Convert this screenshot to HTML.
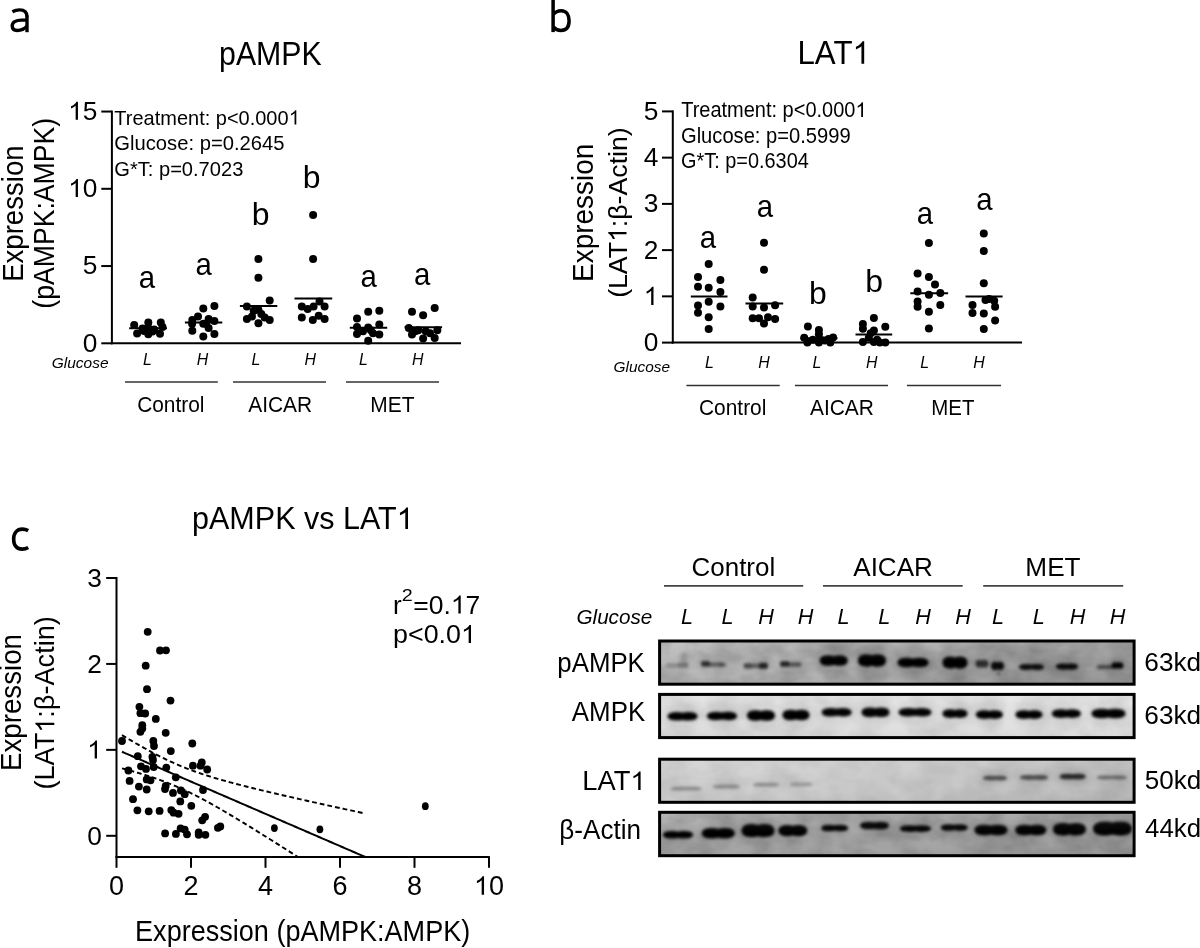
<!DOCTYPE html>
<html><head><meta charset="utf-8"><title>Figure</title>
<style>
html,body{margin:0;padding:0;background:#fff;}
body{width:1200px;height:948px;overflow:hidden;}
svg{display:block;filter:grayscale(1);}
text{-webkit-font-smoothing:antialiased;}
text{font-family:"Liberation Sans",sans-serif;fill:#000;}
</style></head><body>
<svg width="1200" height="948" viewBox="0 0 1200 948">
<rect width="1200" height="948" fill="#fff"/>
<g fill="none" stroke="#000" stroke-width="3.4"><path d="M27,15.5 L27,32.2"/><path d="M12.4,11.8 C14.6,10.5 17,9.9 19.6,9.9 C24.6,9.9 27,12.3 27,16.8"/><path d="M27,20.1 L21.6,20.1 C15.6,20.1 12.2,22.2 12.2,25.8 C12.2,29 14.4,30.5 17.4,30.5 C21.4,30.5 24.8,28.6 27,26.2"/></g>
<text transform="translate(219.06,64.50) scale(0.9223,1)" font-size="32.85">pAMPK</text>
<g transform="translate(114.36,124.50) scale(0.9629,1)"><text font-size="20.78">Treatment: p&lt;0.000 </text><path transform="translate(181.21,0) scale(0.01015,-0.01015)" d="M763,0 L583,0 L583,1098 Q518,1038 412,979 Q307,920 223,890 L223,1057 Q374,1125 487,1221 Q601,1318 648,1409 L763,1409 Z"/></g>
<text transform="translate(114.29,150.30) scale(0.9731,1)" font-size="20.78">Glucose: p=0.2645</text>
<text transform="translate(114.29,176.00) scale(0.9673,1)" font-size="20.78">G*T: p=0.7023</text>
<line x1="111.90" y1="110.60" x2="111.90" y2="344.30" stroke="#000" stroke-width="2"/>
<line x1="110.90" y1="343.30" x2="461.00" y2="343.30" stroke="#000" stroke-width="2"/>
<line x1="101.30" y1="343.30" x2="111.90" y2="343.30" stroke="#000" stroke-width="2"/>
<text transform="translate(82.80,351.60)" font-size="26.30">0</text>
<line x1="101.30" y1="266.05" x2="111.90" y2="266.05" stroke="#000" stroke-width="2"/>
<text transform="translate(82.80,274.35)" font-size="26.30">5</text>
<line x1="101.30" y1="188.80" x2="111.90" y2="188.80" stroke="#000" stroke-width="2"/>
<g transform="translate(68.17,197.10)"><text font-size="26.30"> 0</text><path transform="translate(0.00,0) scale(0.01284,-0.01284)" d="M763,0 L583,0 L583,1098 Q518,1038 412,979 Q307,920 223,890 L223,1057 Q374,1125 487,1221 Q601,1318 648,1409 L763,1409 Z"/></g>
<line x1="101.30" y1="111.55" x2="111.90" y2="111.55" stroke="#000" stroke-width="2"/>
<g transform="translate(68.17,119.85)"><text font-size="26.30"> 5</text><path transform="translate(0.00,0) scale(0.01284,-0.01284)" d="M763,0 L583,0 L583,1098 Q518,1038 412,979 Q307,920 223,890 L223,1057 Q374,1125 487,1221 Q601,1318 648,1409 L763,1409 Z"/></g>
<text transform="translate(22.70,281.86) rotate(-90) scale(0.9489,1)" font-size="29.07">Expression</text>
<text transform="translate(54.30,308.65) rotate(-90) scale(0.9157,1)" font-size="29.07">(pAMPK:AMPK)</text>
<text transform="translate(51.74,368.20) scale(1.0329,1)" font-size="15.00" font-style="italic">Glucose</text>
<text transform="translate(143.09,364.70)" font-size="15.90" font-style="italic">L</text>
<text transform="translate(196.71,364.70)" font-size="15.90" font-style="italic">H</text>
<text transform="translate(251.39,364.70)" font-size="15.90" font-style="italic">L</text>
<text transform="translate(304.51,364.70)" font-size="15.90" font-style="italic">H</text>
<text transform="translate(358.89,364.70)" font-size="15.90" font-style="italic">L</text>
<text transform="translate(412.01,364.70)" font-size="15.90" font-style="italic">H</text>
<line x1="125.00" y1="382.00" x2="217.80" y2="382.00" stroke="#333" stroke-width="1.5"/>
<text transform="translate(137.18,411.60) scale(0.9709,1)" font-size="21.51">Control</text>
<line x1="233.00" y1="382.00" x2="326.00" y2="382.00" stroke="#333" stroke-width="1.5"/>
<text transform="translate(248.21,411.60) scale(0.9739,1)" font-size="21.51">AICAR</text>
<line x1="346.00" y1="382.00" x2="439.00" y2="382.00" stroke="#333" stroke-width="1.5"/>
<text transform="translate(370.28,411.60) scale(0.9733,1)" font-size="21.51">MET</text>
<text transform="translate(138.66,288.28) scale(0.9300,1)" font-size="31.60">a</text>
<text transform="translate(195.61,275.48) scale(0.9300,1)" font-size="31.60">a</text>
<text transform="translate(251.76,224.69) scale(1.0300,1)" font-size="31.00">b</text>
<text transform="translate(302.66,187.69) scale(1.0300,1)" font-size="31.00">b</text>
<text transform="translate(360.51,286.58) scale(0.9300,1)" font-size="31.60">a</text>
<text transform="translate(414.06,284.98) scale(0.9300,1)" font-size="31.60">a</text>
<line x1="129.20" y1="328.30" x2="167.00" y2="328.30" stroke="#000" stroke-width="2"/>
<line x1="184.90" y1="322.60" x2="222.30" y2="322.60" stroke="#000" stroke-width="2"/>
<line x1="239.90" y1="306.10" x2="277.30" y2="306.10" stroke="#000" stroke-width="2"/>
<line x1="294.50" y1="298.50" x2="332.20" y2="298.50" stroke="#000" stroke-width="2"/>
<line x1="349.80" y1="327.70" x2="387.20" y2="327.70" stroke="#000" stroke-width="2"/>
<line x1="404.60" y1="327.30" x2="442.10" y2="327.30" stroke="#000" stroke-width="2"/>
<circle cx="134.2" cy="325.0" r="4.0"/>
<circle cx="137.1" cy="333.5" r="4.0"/>
<circle cx="148.3" cy="322.6" r="4.0"/>
<circle cx="148.3" cy="334.2" r="4.0"/>
<circle cx="160.8" cy="322.4" r="4.0"/>
<circle cx="160.0" cy="333.8" r="4.0"/>
<circle cx="142.5" cy="328.5" r="4.0"/>
<circle cx="148.3" cy="328.0" r="4.0"/>
<circle cx="154.2" cy="329.6" r="4.0"/>
<circle cx="162.5" cy="327.0" r="4.0"/>
<circle cx="144.0" cy="331.0" r="4.0"/>
<circle cx="152.5" cy="331.5" r="4.0"/>
<circle cx="203.3" cy="308.5" r="4.0"/>
<circle cx="214.4" cy="305.9" r="4.0"/>
<circle cx="198.0" cy="316.5" r="4.0"/>
<circle cx="192.3" cy="320.1" r="4.0"/>
<circle cx="208.6" cy="319.1" r="4.0"/>
<circle cx="214.4" cy="320.9" r="4.0"/>
<circle cx="203.3" cy="323.8" r="4.0"/>
<circle cx="208.6" cy="328.0" r="4.0"/>
<circle cx="192.3" cy="330.7" r="4.0"/>
<circle cx="203.3" cy="336.5" r="4.0"/>
<circle cx="214.4" cy="333.9" r="4.0"/>
<circle cx="206.0" cy="323.8" r="4.0"/>
<circle cx="192.1" cy="323.8" r="4.0"/>
<circle cx="258.4" cy="258.9" r="4.0"/>
<circle cx="258.4" cy="277.8" r="4.0"/>
<circle cx="269.7" cy="300.5" r="4.0"/>
<circle cx="246.9" cy="306.5" r="4.0"/>
<circle cx="253.7" cy="310.7" r="4.0"/>
<circle cx="258.4" cy="309.8" r="4.0"/>
<circle cx="261.3" cy="314.0" r="4.0"/>
<circle cx="246.9" cy="319.1" r="4.0"/>
<circle cx="252.0" cy="316.6" r="4.0"/>
<circle cx="269.7" cy="320.0" r="4.0"/>
<circle cx="258.4" cy="323.3" r="4.0"/>
<circle cx="264.7" cy="317.4" r="4.0"/>
<circle cx="313.1" cy="215.0" r="4.0"/>
<circle cx="313.1" cy="258.9" r="4.0"/>
<circle cx="301.8" cy="306.5" r="4.0"/>
<circle cx="307.7" cy="309.0" r="4.0"/>
<circle cx="313.6" cy="306.5" r="4.0"/>
<circle cx="319.5" cy="301.4" r="4.0"/>
<circle cx="324.6" cy="306.5" r="4.0"/>
<circle cx="301.8" cy="317.4" r="4.0"/>
<circle cx="312.8" cy="320.0" r="4.0"/>
<circle cx="318.7" cy="315.7" r="4.0"/>
<circle cx="324.6" cy="319.1" r="4.0"/>
<circle cx="368.2" cy="311.7" r="4.0"/>
<circle cx="379.3" cy="310.7" r="4.0"/>
<circle cx="357.0" cy="318.4" r="4.0"/>
<circle cx="379.3" cy="324.4" r="4.0"/>
<circle cx="357.0" cy="327.0" r="4.0"/>
<circle cx="363.0" cy="331.2" r="4.0"/>
<circle cx="368.2" cy="327.5" r="4.0"/>
<circle cx="373.0" cy="333.3" r="4.0"/>
<circle cx="357.0" cy="333.9" r="4.0"/>
<circle cx="379.3" cy="334.4" r="4.0"/>
<circle cx="368.2" cy="340.7" r="4.0"/>
<circle cx="370.9" cy="330.2" r="4.0"/>
<circle cx="412.0" cy="311.7" r="4.0"/>
<circle cx="423.1" cy="315.2" r="4.0"/>
<circle cx="434.7" cy="308.0" r="4.0"/>
<circle cx="408.8" cy="328.0" r="4.0"/>
<circle cx="412.0" cy="334.4" r="4.0"/>
<circle cx="418.3" cy="330.2" r="4.0"/>
<circle cx="425.7" cy="331.2" r="4.0"/>
<circle cx="430.0" cy="333.3" r="4.0"/>
<circle cx="437.3" cy="330.2" r="4.0"/>
<circle cx="423.1" cy="338.6" r="4.0"/>
<circle cx="434.7" cy="338.1" r="4.0"/>
<circle cx="415.2" cy="331.2" r="4.0"/>
<g fill="none" stroke="#000" stroke-width="3.5"><path d="M553.1,0 L553.1,32.1"/><path d="M553.3,14.5 C555.3,11.8 558.2,10.7 561.2,10.7 C566.4,10.7 569.1,14.8 569.1,20.8 C569.1,27 566.1,30.4 561,30.4 C557.8,30.4 555.2,29.2 553.3,27"/></g>
<g transform="translate(797.43,63.70) scale(0.9574,1)"><text font-size="32.70">LAT </text><path transform="translate(57.55,0) scale(0.01597,-0.01597)" d="M763,0 L583,0 L583,1098 Q518,1038 412,979 Q307,920 223,890 L223,1057 Q374,1125 487,1221 Q601,1318 648,1409 L763,1409 Z"/></g>
<g transform="translate(681.16,117.10) scale(0.9236,1)"><text font-size="21.66">Treatment: p&lt;0.000 </text><path transform="translate(188.81,0) scale(0.01057,-0.01057)" d="M763,0 L583,0 L583,1098 Q518,1038 412,979 Q307,920 223,890 L223,1057 Q374,1125 487,1221 Q601,1318 648,1409 L763,1409 Z"/></g>
<text transform="translate(680.99,142.60) scale(0.9300,1)" font-size="21.66">Glucose: p=0.5999</text>
<text transform="translate(681.00,168.10) scale(0.9196,1)" font-size="21.66">G*T: p=0.6304</text>
<line x1="672.80" y1="110.40" x2="672.80" y2="343.60" stroke="#000" stroke-width="2"/>
<line x1="671.80" y1="342.60" x2="1022.00" y2="342.60" stroke="#000" stroke-width="2"/>
<line x1="662.00" y1="342.60" x2="672.80" y2="342.60" stroke="#000" stroke-width="2"/>
<text transform="translate(643.70,351.20)" font-size="26.30">0</text>
<line x1="662.00" y1="296.36" x2="672.80" y2="296.36" stroke="#000" stroke-width="2"/>
<g transform="translate(643.70,304.96)"><path transform="translate(0.00,0) scale(0.01284,-0.01284)" d="M763,0 L583,0 L583,1098 Q518,1038 412,979 Q307,920 223,890 L223,1057 Q374,1125 487,1221 Q601,1318 648,1409 L763,1409 Z"/></g>
<line x1="662.00" y1="250.12" x2="672.80" y2="250.12" stroke="#000" stroke-width="2"/>
<text transform="translate(643.70,258.72)" font-size="26.30">2</text>
<line x1="662.00" y1="203.88" x2="672.80" y2="203.88" stroke="#000" stroke-width="2"/>
<text transform="translate(643.70,212.48)" font-size="26.30">3</text>
<line x1="662.00" y1="157.64" x2="672.80" y2="157.64" stroke="#000" stroke-width="2"/>
<text transform="translate(643.70,166.24)" font-size="26.30">4</text>
<line x1="662.00" y1="111.40" x2="672.80" y2="111.40" stroke="#000" stroke-width="2"/>
<text transform="translate(643.70,120.00)" font-size="26.30">5</text>
<text transform="translate(592.80,281.89) rotate(-90) scale(0.9659,1)" font-size="28.92">Expression</text>
<g transform="translate(626.50,297.86) rotate(-90) scale(1.0097,1)"><text font-size="26.45">(LAT :β-Actin)</text><path transform="translate(55.36,0) scale(0.01292,-0.01292)" d="M763,0 L583,0 L583,1098 Q518,1038 412,979 Q307,920 223,890 L223,1057 Q374,1125 487,1221 Q601,1318 648,1409 L763,1409 Z"/></g>
<text transform="translate(613.54,371.70) scale(1.0072,1)" font-size="15.30" font-style="italic">Glucose</text>
<text transform="translate(704.99,368.00)" font-size="15.90" font-style="italic">L</text>
<text transform="translate(758.31,368.00)" font-size="15.90" font-style="italic">H</text>
<text transform="translate(812.39,368.00)" font-size="15.90" font-style="italic">L</text>
<text transform="translate(866.01,368.00)" font-size="15.90" font-style="italic">H</text>
<text transform="translate(920.19,368.00)" font-size="15.90" font-style="italic">L</text>
<text transform="translate(973.31,368.00)" font-size="15.90" font-style="italic">H</text>
<line x1="686.40" y1="385.50" x2="779.70" y2="385.50" stroke="#333" stroke-width="1.5"/>
<text transform="translate(699.03,415.00) scale(0.9716,1)" font-size="21.51">Control</text>
<line x1="795.00" y1="385.50" x2="888.00" y2="385.50" stroke="#333" stroke-width="1.5"/>
<text transform="translate(809.96,415.00) scale(0.9739,1)" font-size="21.51">AICAR</text>
<line x1="907.00" y1="385.50" x2="1001.00" y2="385.50" stroke="#333" stroke-width="1.5"/>
<text transform="translate(931.32,415.00) scale(0.9501,1)" font-size="21.51">MET</text>
<text transform="translate(699.76,247.88) scale(0.9300,1)" font-size="31.60">a</text>
<text transform="translate(756.86,217.38) scale(0.9300,1)" font-size="31.60">a</text>
<text transform="translate(808.96,304.49) scale(1.0300,1)" font-size="31.00">b</text>
<text transform="translate(865.21,291.69) scale(1.0300,1)" font-size="31.00">b</text>
<text transform="translate(916.66,224.38) scale(0.9300,1)" font-size="31.60">a</text>
<text transform="translate(976.31,209.88) scale(0.9300,1)" font-size="31.60">a</text>
<line x1="690.80" y1="296.60" x2="727.50" y2="296.60" stroke="#000" stroke-width="2"/>
<line x1="745.50" y1="303.50" x2="783.20" y2="303.50" stroke="#000" stroke-width="2"/>
<line x1="800.50" y1="338.30" x2="837.50" y2="338.30" stroke="#000" stroke-width="2"/>
<line x1="855.50" y1="334.40" x2="892.20" y2="334.40" stroke="#000" stroke-width="2"/>
<line x1="910.30" y1="293.30" x2="948.10" y2="293.30" stroke="#000" stroke-width="2"/>
<line x1="965.50" y1="296.40" x2="1002.60" y2="296.40" stroke="#000" stroke-width="2"/>
<circle cx="708.7" cy="264.0" r="4.0"/>
<circle cx="698.0" cy="276.9" r="4.0"/>
<circle cx="720.4" cy="280.1" r="4.0"/>
<circle cx="698.0" cy="286.8" r="4.0"/>
<circle cx="708.7" cy="287.7" r="4.0"/>
<circle cx="720.4" cy="292.1" r="4.0"/>
<circle cx="708.7" cy="301.7" r="4.0"/>
<circle cx="698.0" cy="305.6" r="4.0"/>
<circle cx="720.4" cy="306.5" r="4.0"/>
<circle cx="698.0" cy="312.8" r="4.0"/>
<circle cx="708.7" cy="317.3" r="4.0"/>
<circle cx="708.7" cy="329.0" r="4.0"/>
<circle cx="764.0" cy="242.8" r="4.0"/>
<circle cx="764.0" cy="269.7" r="4.0"/>
<circle cx="752.7" cy="297.5" r="4.0"/>
<circle cx="752.7" cy="306.5" r="4.0"/>
<circle cx="764.0" cy="307.4" r="4.0"/>
<circle cx="775.1" cy="305.2" r="4.0"/>
<circle cx="752.7" cy="318.2" r="4.0"/>
<circle cx="759.0" cy="318.2" r="4.0"/>
<circle cx="768.0" cy="317.3" r="4.0"/>
<circle cx="775.1" cy="319.0" r="4.0"/>
<circle cx="764.0" cy="323.5" r="4.0"/>
<circle cx="807.9" cy="326.4" r="4.0"/>
<circle cx="818.9" cy="330.0" r="4.0"/>
<circle cx="818.9" cy="334.2" r="4.0"/>
<circle cx="804.2" cy="337.8" r="4.0"/>
<circle cx="807.4" cy="342.4" r="4.0"/>
<circle cx="812.9" cy="339.7" r="4.0"/>
<circle cx="818.9" cy="342.4" r="4.0"/>
<circle cx="824.8" cy="340.6" r="4.0"/>
<circle cx="830.3" cy="342.4" r="4.0"/>
<circle cx="833.1" cy="337.4" r="4.0"/>
<circle cx="821.2" cy="340.0" r="4.0"/>
<circle cx="828.5" cy="339.0" r="4.0"/>
<circle cx="873.9" cy="318.1" r="4.0"/>
<circle cx="862.9" cy="324.1" r="4.0"/>
<circle cx="862.9" cy="328.7" r="4.0"/>
<circle cx="885.3" cy="326.8" r="4.0"/>
<circle cx="873.9" cy="330.5" r="4.0"/>
<circle cx="870.7" cy="333.2" r="4.0"/>
<circle cx="868.8" cy="337.8" r="4.0"/>
<circle cx="862.9" cy="342.0" r="4.0"/>
<circle cx="873.9" cy="342.0" r="4.0"/>
<circle cx="877.1" cy="339.7" r="4.0"/>
<circle cx="879.8" cy="342.4" r="4.0"/>
<circle cx="885.3" cy="342.4" r="4.0"/>
<circle cx="928.9" cy="243.0" r="4.0"/>
<circle cx="917.6" cy="273.4" r="4.0"/>
<circle cx="928.9" cy="276.9" r="4.0"/>
<circle cx="935.0" cy="284.6" r="4.0"/>
<circle cx="917.6" cy="291.5" r="4.0"/>
<circle cx="928.9" cy="294.7" r="4.0"/>
<circle cx="940.3" cy="292.9" r="4.0"/>
<circle cx="917.6" cy="301.6" r="4.0"/>
<circle cx="917.6" cy="306.8" r="4.0"/>
<circle cx="940.3" cy="305.1" r="4.0"/>
<circle cx="928.9" cy="311.7" r="4.0"/>
<circle cx="928.9" cy="328.6" r="4.0"/>
<circle cx="983.8" cy="233.4" r="4.0"/>
<circle cx="983.8" cy="251.1" r="4.0"/>
<circle cx="983.8" cy="283.3" r="4.0"/>
<circle cx="989.0" cy="299.0" r="4.0"/>
<circle cx="994.2" cy="300.8" r="4.0"/>
<circle cx="972.5" cy="305.1" r="4.0"/>
<circle cx="972.5" cy="312.9" r="4.0"/>
<circle cx="983.8" cy="313.5" r="4.0"/>
<circle cx="995.1" cy="306.8" r="4.0"/>
<circle cx="995.1" cy="320.4" r="4.0"/>
<circle cx="983.8" cy="329.1" r="4.0"/>
<circle cx="985.5" cy="299.9" r="4.0"/>
<g fill="none" stroke="#000" stroke-width="3.6"><path d="M28.2,530.6 C26.4,529.6 24.4,529.1 22.4,529.1 C16.9,529.1 13.65,533.2 13.65,539.3 C13.65,545.5 16.9,549.1 22.2,549.1 C24.4,549.1 26.5,548.5 28.2,547.5"/></g>
<g transform="translate(192.05,529.00) scale(0.9718,1)"><text font-size="31.40">pAMPK vs LAT </text><path transform="translate(210.52,0) scale(0.01533,-0.01533)" d="M763,0 L583,0 L583,1098 Q518,1038 412,979 Q307,920 223,890 L223,1057 Q374,1125 487,1221 Q601,1318 648,1409 L763,1409 Z"/></g>
<line x1="116.50" y1="577.00" x2="116.50" y2="858.00" stroke="#000" stroke-width="2"/>
<line x1="115.50" y1="857.00" x2="489.80" y2="857.00" stroke="#000" stroke-width="2"/>
<line x1="106.20" y1="835.80" x2="116.50" y2="835.80" stroke="#000" stroke-width="2"/>
<text transform="translate(87.20,844.50)" font-size="26.30">0</text>
<line x1="106.20" y1="749.87" x2="116.50" y2="749.87" stroke="#000" stroke-width="2"/>
<g transform="translate(87.20,758.57)"><path transform="translate(0.00,0) scale(0.01284,-0.01284)" d="M763,0 L583,0 L583,1098 Q518,1038 412,979 Q307,920 223,890 L223,1057 Q374,1125 487,1221 Q601,1318 648,1409 L763,1409 Z"/></g>
<line x1="106.20" y1="663.94" x2="116.50" y2="663.94" stroke="#000" stroke-width="2"/>
<text transform="translate(87.20,672.64)" font-size="26.30">2</text>
<line x1="106.20" y1="578.01" x2="116.50" y2="578.01" stroke="#000" stroke-width="2"/>
<text transform="translate(87.20,586.71)" font-size="26.30">3</text>
<line x1="116.50" y1="857.00" x2="116.50" y2="867.80" stroke="#000" stroke-width="2"/>
<text transform="translate(108.99,894.80)" font-size="27.00">0</text>
<line x1="191.00" y1="857.00" x2="191.00" y2="867.80" stroke="#000" stroke-width="2"/>
<text transform="translate(183.49,894.80)" font-size="27.00">2</text>
<line x1="265.50" y1="857.00" x2="265.50" y2="867.80" stroke="#000" stroke-width="2"/>
<text transform="translate(257.99,894.80)" font-size="27.00">4</text>
<line x1="340.00" y1="857.00" x2="340.00" y2="867.80" stroke="#000" stroke-width="2"/>
<text transform="translate(332.49,894.80)" font-size="27.00">6</text>
<line x1="414.50" y1="857.00" x2="414.50" y2="867.80" stroke="#000" stroke-width="2"/>
<text transform="translate(406.99,894.80)" font-size="27.00">8</text>
<line x1="489.00" y1="857.00" x2="489.00" y2="867.80" stroke="#000" stroke-width="2"/>
<g transform="translate(473.98,894.80)"><text font-size="27.00"> 0</text><path transform="translate(0.00,0) scale(0.01318,-0.01318)" d="M763,0 L583,0 L583,1098 Q518,1038 412,979 Q307,920 223,890 L223,1057 Q374,1125 487,1221 Q601,1318 648,1409 L763,1409 Z"/></g>
<text transform="translate(135.08,941.20) scale(0.9169,1)" font-size="29.51">Expression (pAMPK:AMPK)</text>
<text transform="translate(21.00,770.97) rotate(-90) scale(0.9580,1)" font-size="28.92">Expression</text>
<g transform="translate(54.30,789.58) rotate(-90) scale(0.9880,1)"><text font-size="27.47">(LAT :β-Actin)</text><path transform="translate(57.49,0) scale(0.01341,-0.01341)" d="M763,0 L583,0 L583,1098 Q518,1038 412,979 Q307,920 223,890 L223,1057 Q374,1125 487,1221 Q601,1318 648,1409 L763,1409 Z"/></g>
<text transform="translate(393.08,613.50)" font-size="26.00">r</text>
<text transform="translate(401.81,601.00) scale(1.1343,1)" font-size="17.40">2</text>
<g transform="translate(413.20,613.50) scale(1.0205,1)"><text font-size="26.00">=0. 7</text><path transform="translate(36.87,0) scale(0.01270,-0.01270)" d="M763,0 L583,0 L583,1098 Q518,1038 412,979 Q307,920 223,890 L223,1057 Q374,1125 487,1221 Q601,1318 648,1409 L763,1409 Z"/></g>
<g transform="translate(393.08,643.00) scale(1.0324,1)"><text font-size="26.00">p&lt;0.0 </text><path transform="translate(65.79,0) scale(0.01270,-0.01270)" d="M763,0 L583,0 L583,1098 Q518,1038 412,979 Q307,920 223,890 L223,1057 Q374,1125 487,1221 Q601,1318 648,1409 L763,1409 Z"/></g>
<circle cx="147.7" cy="631.8" r="3.9"/>
<circle cx="160.0" cy="650.5" r="3.9"/>
<circle cx="166.0" cy="650.3" r="3.9"/>
<circle cx="145.7" cy="665.7" r="3.9"/>
<circle cx="147.0" cy="689.2" r="3.9"/>
<circle cx="170.5" cy="700.6" r="3.9"/>
<circle cx="139.4" cy="706.8" r="3.9"/>
<circle cx="140.4" cy="713.2" r="3.9"/>
<circle cx="145.2" cy="713.5" r="3.9"/>
<circle cx="155.8" cy="718.9" r="3.9"/>
<circle cx="142.3" cy="725.2" r="3.9"/>
<circle cx="142.3" cy="728.4" r="3.9"/>
<circle cx="140.4" cy="731.8" r="3.9"/>
<circle cx="165.7" cy="732.8" r="3.9"/>
<circle cx="122.0" cy="741.0" r="3.9"/>
<circle cx="153.3" cy="741.0" r="3.9"/>
<circle cx="154.0" cy="746.0" r="3.9"/>
<circle cx="192.3" cy="743.5" r="3.9"/>
<circle cx="170.8" cy="751.1" r="3.9"/>
<circle cx="137.8" cy="756.2" r="3.9"/>
<circle cx="152.4" cy="756.8" r="3.9"/>
<circle cx="153.0" cy="760.0" r="3.9"/>
<circle cx="141.0" cy="766.3" r="3.9"/>
<circle cx="146.0" cy="768.9" r="3.9"/>
<circle cx="153.7" cy="767.0" r="3.9"/>
<circle cx="166.3" cy="767.6" r="3.9"/>
<circle cx="192.9" cy="765.7" r="3.9"/>
<circle cx="201.8" cy="762.5" r="3.9"/>
<circle cx="200.5" cy="765.7" r="3.9"/>
<circle cx="207.2" cy="769.5" r="3.9"/>
<circle cx="128.4" cy="770.5" r="3.9"/>
<circle cx="175.8" cy="777.3" r="3.9"/>
<circle cx="129.6" cy="780.9" r="3.9"/>
<circle cx="146.7" cy="779.4" r="3.9"/>
<circle cx="150.5" cy="780.3" r="3.9"/>
<circle cx="138.9" cy="786.6" r="3.9"/>
<circle cx="146.7" cy="789.5" r="3.9"/>
<circle cx="165.7" cy="786.0" r="3.9"/>
<circle cx="165.0" cy="789.1" r="3.9"/>
<circle cx="173.0" cy="792.9" r="3.9"/>
<circle cx="180.9" cy="790.4" r="3.9"/>
<circle cx="184.7" cy="794.2" r="3.9"/>
<circle cx="203.0" cy="790.0" r="3.9"/>
<circle cx="133.0" cy="799.2" r="3.9"/>
<circle cx="180.3" cy="801.4" r="3.9"/>
<circle cx="191.3" cy="805.8" r="3.9"/>
<circle cx="137.4" cy="810.3" r="3.9"/>
<circle cx="148.7" cy="811.3" r="3.9"/>
<circle cx="159.6" cy="810.9" r="3.9"/>
<circle cx="171.3" cy="810.1" r="3.9"/>
<circle cx="173.6" cy="812.7" r="3.9"/>
<circle cx="178.6" cy="813.8" r="3.9"/>
<circle cx="202.2" cy="820.3" r="3.9"/>
<circle cx="205.1" cy="816.8" r="3.9"/>
<circle cx="217.9" cy="827.8" r="3.9"/>
<circle cx="220.3" cy="826.4" r="3.9"/>
<circle cx="165.1" cy="833.4" r="3.9"/>
<circle cx="175.9" cy="833.9" r="3.9"/>
<circle cx="180.6" cy="828.4" r="3.9"/>
<circle cx="184.7" cy="829.6" r="3.9"/>
<circle cx="187.0" cy="834.3" r="3.9"/>
<circle cx="198.7" cy="832.3" r="3.9"/>
<circle cx="198.7" cy="834.8" r="3.9"/>
<circle cx="205.4" cy="834.8" r="3.9"/>
<ellipse cx="274.4" cy="828.1" rx="3.4" ry="3.9"/>
<ellipse cx="319.9" cy="829.3" rx="3.4" ry="3.9"/>
<ellipse cx="425.3" cy="806.2" rx="3.4" ry="3.9"/>
<path d="M121.98,751.76 L123.19,752.28 L124.41,752.81 L125.63,753.34 L126.84,753.86 L128.06,754.39 L129.28,754.91 L130.49,755.44 L131.71,755.97 L132.93,756.49 L134.14,757.02 L135.36,757.55 L136.57,758.07 L137.79,758.60 L139.01,759.12 L140.22,759.65 L141.44,760.18 L142.66,760.70 L143.87,761.23 L145.09,761.76 L146.31,762.28 L147.52,762.81 L148.74,763.33 L149.96,763.86 L151.17,764.39 L152.39,764.91 L153.61,765.44 L154.82,765.97 L156.04,766.49 L157.26,767.02 L158.47,767.54 L159.69,768.07 L160.91,768.60 L162.12,769.12 L163.34,769.65 L164.56,770.17 L165.77,770.70 L166.99,771.23 L168.21,771.75 L169.42,772.28 L170.64,772.81 L171.86,773.33 L173.07,773.86 L174.29,774.38 L175.51,774.91 L176.72,775.44 L177.94,775.96 L179.16,776.49 L180.37,777.02 L181.59,777.54 L182.81,778.07 L184.02,778.59 L185.24,779.12 L186.45,779.65 L187.67,780.17 L188.89,780.70 L190.10,781.23 L191.32,781.75 L192.54,782.28 L193.75,782.80 L194.97,783.33 L196.19,783.86 L197.40,784.38 L198.62,784.91 L199.84,785.43 L201.05,785.96 L202.27,786.49 L203.49,787.01 L204.70,787.54 L205.92,788.07 L207.14,788.59 L208.35,789.12 L209.57,789.64 L210.79,790.17 L212.00,790.70 L213.22,791.22 L214.44,791.75 L215.65,792.28 L216.87,792.80 L218.09,793.33 L219.30,793.85 L220.52,794.38 L221.74,794.91 L222.95,795.43 L224.17,795.96 L225.39,796.49 L226.60,797.01 L227.82,797.54 L229.04,798.06 L230.25,798.59 L231.47,799.12 L232.68,799.64 L233.90,800.17 L235.12,800.70 L236.33,801.22 L237.55,801.75 L238.77,802.27 L239.98,802.80 L241.20,803.33 L242.42,803.85 L243.63,804.38 L244.85,804.90 L246.07,805.43 L247.28,805.96 L248.50,806.48 L249.72,807.01 L250.93,807.54 L252.15,808.06 L253.37,808.59 L254.58,809.11 L255.80,809.64 L257.02,810.17 L258.23,810.69 L259.45,811.22 L260.67,811.75 L261.88,812.27 L263.10,812.80 L264.32,813.32 L265.53,813.85 L266.75,814.38 L267.97,814.90 L269.18,815.43 L270.40,815.96 L271.62,816.48 L272.83,817.01 L274.05,817.53 L275.27,818.06 L276.48,818.59 L277.70,819.11 L278.92,819.64 L280.13,820.17 L281.35,820.69 L282.56,821.22 L283.78,821.74 L285.00,822.27 L286.21,822.80 L287.43,823.32 L288.65,823.85 L289.86,824.37 L291.08,824.90 L292.30,825.43 L293.51,825.95 L294.73,826.48 L295.95,827.01 L297.16,827.53 L298.38,828.06 L299.60,828.58 L300.81,829.11 L302.03,829.64 L303.25,830.16 L304.46,830.69 L305.68,831.22 L306.90,831.74 L308.11,832.27 L309.33,832.79 L310.55,833.32 L311.76,833.85 L312.98,834.37 L314.20,834.90 L315.41,835.43 L316.63,835.95 L317.85,836.48 L319.06,837.00 L320.28,837.53 L321.50,838.06 L322.71,838.58 L323.93,839.11 L325.15,839.63 L326.36,840.16 L327.58,840.69 L328.80,841.21 L330.01,841.74 L331.23,842.27 L332.44,842.79 L333.66,843.32 L334.88,843.84 L336.09,844.37 L337.31,844.90 L338.53,845.42 L339.74,845.95 L340.96,846.48 L342.18,847.00 L343.39,847.53 L344.61,848.05 L345.83,848.58 L347.04,849.11 L348.26,849.63 L349.48,850.16 L350.69,850.69 L351.91,851.21 L353.13,851.74 L354.34,852.26 L355.56,852.79 L356.78,853.32 L357.99,853.84 L359.21,854.37 L360.43,854.90 L361.64,855.42 L362.86,855.95 L364.08,856.47 L365.29,857.00" fill="none" stroke="#000" stroke-width="2"/>
<path d="M121.98,735.15 L123.19,735.88 L124.41,736.60 L125.63,737.32 L126.84,738.05 L128.06,738.76 L129.28,739.48 L130.49,740.19 L131.71,740.90 L132.93,741.61 L134.14,742.32 L135.36,743.02 L136.57,743.72 L137.79,744.41 L139.01,745.11 L140.22,745.80 L141.44,746.48 L142.66,747.17 L143.87,747.85 L145.09,748.52 L146.31,749.19 L147.52,749.86 L148.74,750.52 L149.96,751.18 L151.17,751.84 L152.39,752.49 L153.61,753.13 L154.82,753.77 L156.04,754.41 L157.26,755.04 L158.47,755.66 L159.69,756.28 L160.91,756.89 L162.12,757.50 L163.34,758.10 L164.56,758.70 L165.77,759.29 L166.99,759.87 L168.21,760.45 L169.42,761.02 L170.64,761.59 L171.86,762.15 L173.07,762.70 L174.29,763.24 L175.51,763.78 L176.72,764.32 L177.94,764.84 L179.16,765.36 L180.37,765.87 L181.59,766.38 L182.81,766.88 L184.02,767.37 L185.24,767.86 L186.45,768.34 L187.67,768.81 L188.89,769.28 L190.10,769.74 L191.32,770.19 L192.54,770.64 L193.75,771.09 L194.97,771.52 L196.19,771.96 L197.40,772.38 L198.62,772.80 L199.84,773.22 L201.05,773.63 L202.27,774.04 L203.49,774.44 L204.70,774.84 L205.92,775.23 L207.14,775.62 L208.35,776.00 L209.57,776.38 L210.79,776.76 L212.00,777.13 L213.22,777.50 L214.44,777.87 L215.65,778.23 L216.87,778.59 L218.09,778.94 L219.30,779.30 L220.52,779.64 L221.74,779.99 L222.95,780.34 L224.17,780.68 L225.39,781.01 L226.60,781.35 L227.82,781.68 L229.04,782.02 L230.25,782.35 L231.47,782.67 L232.68,783.00 L233.90,783.32 L235.12,783.64 L236.33,783.96 L237.55,784.28 L238.77,784.60 L239.98,784.91 L241.20,785.22 L242.42,785.53 L243.63,785.84 L244.85,786.15 L246.07,786.46 L247.28,786.76 L248.50,787.07 L249.72,787.37 L250.93,787.67 L252.15,787.97 L253.37,788.27 L254.58,788.57 L255.80,788.87 L257.02,789.16 L258.23,789.46 L259.45,789.75 L260.67,790.05 L261.88,790.34 L263.10,790.63 L264.32,790.92 L265.53,791.21 L266.75,791.50 L267.97,791.79 L269.18,792.08 L270.40,792.37 L271.62,792.65 L272.83,792.94 L274.05,793.22 L275.27,793.51 L276.48,793.79 L277.70,794.07 L278.92,794.36 L280.13,794.64 L281.35,794.92 L282.56,795.20 L283.78,795.48 L285.00,795.76 L286.21,796.04 L287.43,796.32 L288.65,796.60 L289.86,796.88 L291.08,797.15 L292.30,797.43 L293.51,797.71 L294.73,797.98 L295.95,798.26 L297.16,798.53 L298.38,798.81 L299.60,799.08 L300.81,799.36 L302.03,799.63 L303.25,799.91 L304.46,800.18 L305.68,800.45 L306.90,800.73 L308.11,801.00 L309.33,801.27 L310.55,801.54 L311.76,801.81 L312.98,802.09 L314.20,802.36 L315.41,802.63 L316.63,802.90 L317.85,803.17 L319.06,803.44 L320.28,803.71 L321.50,803.98 L322.71,804.25 L323.93,804.52 L325.15,804.79 L326.36,805.05 L327.58,805.32 L328.80,805.59 L330.01,805.86 L331.23,806.13 L332.44,806.39 L333.66,806.66 L334.88,806.93 L336.09,807.20 L337.31,807.46 L338.53,807.73 L339.74,808.00 L340.96,808.26 L342.18,808.53 L343.39,808.80 L344.61,809.06 L345.83,809.33 L347.04,809.59 L348.26,809.86 L349.48,810.12 L350.69,810.39 L351.91,810.65 L353.13,810.92 L354.34,811.18 L355.56,811.45 L356.78,811.71 L357.99,811.98 L359.21,812.24 L360.43,812.51 L361.64,812.77 L362.86,813.03 L364.08,813.30 L365.29,813.56" fill="none" stroke="#000" stroke-width="1.9" stroke-dasharray="4.8,3"/>
<path d="M121.98,768.36 L123.19,768.69 L124.41,769.02 L125.63,769.35 L126.84,769.68 L128.06,770.01 L129.28,770.35 L130.49,770.69 L131.71,771.03 L132.93,771.38 L134.14,771.72 L135.36,772.07 L136.57,772.43 L137.79,772.78 L139.01,773.14 L140.22,773.50 L141.44,773.87 L142.66,774.24 L143.87,774.61 L145.09,774.99 L146.31,775.37 L147.52,775.75 L148.74,776.14 L149.96,776.54 L151.17,776.94 L152.39,777.34 L153.61,777.75 L154.82,778.16 L156.04,778.58 L157.26,779.00 L158.47,779.43 L159.69,779.86 L160.91,780.30 L162.12,780.74 L163.34,781.19 L164.56,781.65 L165.77,782.11 L166.99,782.58 L168.21,783.06 L169.42,783.54 L170.64,784.02 L171.86,784.52 L173.07,785.02 L174.29,785.52 L175.51,786.04 L176.72,786.56 L177.94,787.09 L179.16,787.62 L180.37,788.16 L181.59,788.71 L182.81,789.26 L184.02,789.82 L185.24,790.38 L186.45,790.96 L187.67,791.54 L188.89,792.12 L190.10,792.71 L191.32,793.31 L192.54,793.91 L193.75,794.52 L194.97,795.14 L196.19,795.76 L197.40,796.38 L198.62,797.01 L199.84,797.65 L201.05,798.29 L202.27,798.94 L203.49,799.59 L204.70,800.24 L205.92,800.90 L207.14,801.57 L208.35,802.23 L209.57,802.91 L210.79,803.58 L212.00,804.26 L213.22,804.95 L214.44,805.63 L215.65,806.32 L216.87,807.02 L218.09,807.71 L219.30,808.41 L220.52,809.12 L221.74,809.82 L222.95,810.53 L224.17,811.24 L225.39,811.96 L226.60,812.67 L227.82,813.39 L229.04,814.11 L230.25,814.83 L231.47,815.56 L232.68,816.29 L233.90,817.02 L235.12,817.75 L236.33,818.48 L237.55,819.22 L238.77,819.95 L239.98,820.69 L241.20,821.43 L242.42,822.17 L243.63,822.91 L244.85,823.66 L246.07,824.40 L247.28,825.15 L248.50,825.90 L249.72,826.65 L250.93,827.40 L252.15,828.15 L253.37,828.90 L254.58,829.66 L255.80,830.41 L257.02,831.17 L258.23,831.93 L259.45,832.68 L260.67,833.44 L261.88,834.20 L263.10,834.96 L264.32,835.73 L265.53,836.49 L266.75,837.25 L267.97,838.02 L269.18,838.78 L270.40,839.55 L271.62,840.31 L272.83,841.08 L274.05,841.85 L275.27,842.61 L276.48,843.38 L277.70,844.15 L278.92,844.92 L280.13,845.69 L281.35,846.46 L282.56,847.23 L283.78,848.01 L285.00,848.78 L286.21,849.55 L287.43,850.33 L288.65,851.10 L289.86,851.87 L291.08,852.65 L292.30,853.42 L293.51,854.20 L294.73,854.98 L295.95,855.75 L297.16,856.53 L297.90,857.00" fill="none" stroke="#000" stroke-width="1.9" stroke-dasharray="4.8,3"/>
<text transform="translate(691.47,575.60) scale(0.9990,1)" font-size="26.02">Control</text>
<text transform="translate(853.25,575.60) scale(1.0021,1)" font-size="26.02">AICAR</text>
<text transform="translate(1025.35,575.60) scale(1.0059,1)" font-size="26.02">MET</text>
<line x1="664.00" y1="585.90" x2="803.20" y2="585.90" stroke="#444" stroke-width="1.6"/>
<line x1="823.00" y1="585.90" x2="962.70" y2="585.90" stroke="#444" stroke-width="1.6"/>
<line x1="983.20" y1="585.90" x2="1123.20" y2="585.90" stroke="#444" stroke-width="1.6"/>
<text transform="translate(576.49,623.60) scale(0.9802,1)" font-size="21.08" font-style="italic">Glucose</text>
<text transform="translate(681.10,623.60)" font-size="21.66" font-style="italic">L</text>
<text transform="translate(721.40,623.60)" font-size="21.66" font-style="italic">L</text>
<text transform="translate(758.24,623.60)" font-size="21.66" font-style="italic">H</text>
<text transform="translate(797.84,623.60)" font-size="21.66" font-style="italic">H</text>
<text transform="translate(837.60,623.60)" font-size="21.66" font-style="italic">L</text>
<text transform="translate(878.20,623.60)" font-size="21.66" font-style="italic">L</text>
<text transform="translate(915.14,623.60)" font-size="21.66" font-style="italic">H</text>
<text transform="translate(955.14,623.60)" font-size="21.66" font-style="italic">H</text>
<text transform="translate(992.00,623.60)" font-size="21.66" font-style="italic">L</text>
<text transform="translate(1032.80,623.60)" font-size="21.66" font-style="italic">L</text>
<text transform="translate(1069.84,623.60)" font-size="21.66" font-style="italic">H</text>
<text transform="translate(1109.84,623.60)" font-size="21.66" font-style="italic">H</text>
<text transform="translate(557.35,671.75) scale(0.9658,1)" font-size="26.74">pAMPK</text>
<text transform="translate(571.85,720.50) scale(0.9679,1)" font-size="26.74">AMPK</text>
<g transform="translate(582.36,789.90) scale(1.0213,1)"><text font-size="26.74">LAT </text><path transform="translate(47.06,0) scale(0.01306,-0.01306)" d="M763,0 L583,0 L583,1098 Q518,1038 412,979 Q307,920 223,890 L223,1057 Q374,1125 487,1221 Q601,1318 648,1409 L763,1409 Z"/></g>
<text transform="translate(559.30,839.00) scale(0.9756,1)" font-size="26.74">β-Actin</text>
<text transform="translate(1144.36,671.25) scale(1.0237,1)" font-size="25.60">63kd</text>
<text transform="translate(1144.36,724.40) scale(1.0237,1)" font-size="25.60">63kd</text>
<text transform="translate(1144.66,789.00) scale(1.0182,1)" font-size="25.60">50kd</text>
<text transform="translate(1145.11,836.90) scale(1.0099,1)" font-size="25.60">44kd</text>
<defs>
<filter id="bl" x="-50%" y="-100%" width="200%" height="300%"><feGaussianBlur stdDeviation="1.6"/></filter>
<filter id="bl2" x="-50%" y="-100%" width="200%" height="300%"><feGaussianBlur stdDeviation="3.5"/></filter>
<filter id="bgblur" x="0" y="0" width="100%" height="100%"><feGaussianBlur stdDeviation="3"/></filter>
<linearGradient id="g1" x1="0" y1="0" x2="1" y2="0"><stop offset="0" stop-color="#bbbbbb"/><stop offset="0.45" stop-color="#b2b2b2"/><stop offset="0.7" stop-color="#a4a4a4"/><stop offset="1" stop-color="#9e9e9e"/></linearGradient>
<linearGradient id="g2" x1="0" y1="0" x2="1" y2="0"><stop offset="0" stop-color="#e2e2e2"/><stop offset="1" stop-color="#e4e4e4"/></linearGradient>
<linearGradient id="g3" x1="0" y1="0" x2="1" y2="0"><stop offset="0" stop-color="#d2d2d2"/><stop offset="0.5" stop-color="#cdcdcd"/><stop offset="1" stop-color="#bcbcbc"/></linearGradient>
<linearGradient id="g4" x1="0" y1="0" x2="1" y2="0"><stop offset="0" stop-color="#acacac"/><stop offset="1" stop-color="#a2a2a2"/></linearGradient>
<linearGradient id="vshade" x1="0" y1="0" x2="0" y2="1"><stop offset="0" stop-color="#fff" stop-opacity="0.10"/><stop offset="0.5" stop-color="#fff" stop-opacity="0"/><stop offset="1" stop-color="#000" stop-opacity="0.05"/></linearGradient>
<filter id="noise" x="0" y="0" width="100%" height="100%" color-interpolation-filters="sRGB"><feTurbulence type="fractalNoise" baseFrequency="0.035 0.05" numOctaves="3" seed="11"/><feColorMatrix type="matrix" values="0 0 0 0 0  0 0 0 0 0  0 0 0 0 0  0 0 0 -1.4 1.0"/></filter>
<clipPath id="c1"><rect x="661" y="642.5" width="471.5" height="40.2"/></clipPath>
<clipPath id="c2"><rect x="661" y="695.9" width="471.5" height="40.2"/></clipPath>
<clipPath id="c3"><rect x="661" y="760.7" width="471.5" height="40.1"/></clipPath>
<clipPath id="c4"><rect x="661" y="813.8" width="471.5" height="40.4"/></clipPath>
</defs>
<rect x="659.6" y="641.0" width="474.5" height="43.2" fill="url(#g1)"/>
<g clip-path="url(#c1)"><g filter="url(#bl2)">
<ellipse cx="672.0" cy="665.5" rx="7.4" ry="9.5" fill="#000" fill-opacity="0.022"/>
<ellipse cx="683.0" cy="665.0" rx="6.8" ry="10.8" fill="#000" fill-opacity="0.035"/>
<ellipse cx="684.0" cy="657.0" rx="3.7" ry="16.0" fill="#000" fill-opacity="0.012"/>
<ellipse cx="705.5" cy="663.8" rx="5.6" ry="10.8" fill="#000" fill-opacity="0.075"/>
<ellipse cx="716.0" cy="664.6" rx="9.9" ry="9.5" fill="#000" fill-opacity="0.045"/>
<ellipse cx="723.0" cy="665.0" rx="4.3" ry="8.2" fill="#000" fill-opacity="0.035"/>
<ellipse cx="748.0" cy="665.8" rx="5.6" ry="10.8" fill="#000" fill-opacity="0.060"/>
<ellipse cx="756.0" cy="666.0" rx="5.6" ry="9.5" fill="#000" fill-opacity="0.045"/>
<ellipse cx="763.5" cy="665.8" rx="5.6" ry="12.1" fill="#000" fill-opacity="0.080"/>
<ellipse cx="785.0" cy="664.0" rx="6.2" ry="11.5" fill="#000" fill-opacity="0.080"/>
<ellipse cx="795.5" cy="664.6" rx="7.4" ry="9.5" fill="#000" fill-opacity="0.050"/>
<ellipse cx="833.7" cy="660.5" rx="17.4" ry="17.3" fill="#000" fill-opacity="0.100"/>
<ellipse cx="872.0" cy="660.5" rx="17.4" ry="19.9" fill="#000" fill-opacity="0.100"/>
<ellipse cx="913.0" cy="662.6" rx="19.2" ry="16.0" fill="#000" fill-opacity="0.100"/>
<ellipse cx="955.0" cy="662.6" rx="15.5" ry="19.9" fill="#000" fill-opacity="0.100"/>
<ellipse cx="982.0" cy="663.8" rx="8.1" ry="13.4" fill="#000" fill-opacity="0.070"/>
<ellipse cx="997.5" cy="666.0" rx="8.1" ry="14.7" fill="#000" fill-opacity="0.095"/>
<ellipse cx="998.6" cy="673.6" rx="1.4" ry="5.6" fill="#000" fill-opacity="0.090"/>
<ellipse cx="1031.5" cy="667.0" rx="15.5" ry="11.5" fill="#000" fill-opacity="0.092"/>
<ellipse cx="1067.0" cy="666.6" rx="13.6" ry="11.5" fill="#000" fill-opacity="0.095"/>
<ellipse cx="1105.0" cy="667.0" rx="10.5" ry="8.9" fill="#000" fill-opacity="0.055"/>
<ellipse cx="1117.5" cy="665.5" rx="7.4" ry="12.1" fill="#000" fill-opacity="0.100"/>
</g></g>
<g clip-path="url(#c1)"><g filter="url(#bl)">
<g fill="#000" fill-opacity="0.22"><path d="M666.0,665.5 C666.0,662.5 670.8,663.0 672.0,663.5 C673.2,663.0 678.0,662.5 678.0,665.5 C678.0,668.5 673.2,668.0 672.0,667.5 C670.8,668.0 666.0,668.5 666.0,665.5Z"/></g>
<g fill="#000" fill-opacity="0.35"><path d="M677.5,665.0 C677.5,661.4 681.9,662.0 683.0,662.6 C684.1,662.0 688.5,661.4 688.5,665.0 C688.5,668.6 684.1,668.0 683.0,667.4 C681.9,668.0 677.5,668.6 677.5,665.0Z"/></g>
<g fill="#000" fill-opacity="0.12"><path d="M681.0,657.0 C681.0,651.0 683.4,652.0 684.0,653.0 C684.6,652.0 687.0,651.0 687.0,657.0 C687.0,663.0 684.6,662.0 684.0,661.0 C683.4,662.0 681.0,663.0 681.0,657.0Z"/></g>
<g fill="#000" fill-opacity="0.75"><path d="M701.0,663.8 C701.0,660.2 704.6,660.8 705.5,661.4 C706.4,660.8 710.0,660.2 710.0,663.8 C710.0,667.4 706.4,666.8 705.5,666.2 C704.6,666.8 701.0,667.4 701.0,663.8Z"/></g>
<g fill="#000" fill-opacity="0.45"><path d="M708.0,664.6 C708.0,661.6 714.4,662.1 716.0,662.6 C717.6,662.1 724.0,661.6 724.0,664.6 C724.0,667.6 717.6,667.1 716.0,666.6 C714.4,667.1 708.0,667.6 708.0,664.6Z"/></g>
<g fill="#000" fill-opacity="0.35"><path d="M719.5,665.0 C719.5,662.6 722.3,663.0 723.0,663.4 C723.7,663.0 726.5,662.6 726.5,665.0 C726.5,667.4 723.7,667.0 723.0,666.6 C722.3,667.0 719.5,667.4 719.5,665.0Z"/></g>
<g fill="#000" fill-opacity="0.6"><path d="M743.5,665.8 C743.5,662.2 747.1,662.8 748.0,663.4 C748.9,662.8 752.5,662.2 752.5,665.8 C752.5,669.4 748.9,668.8 748.0,668.2 C747.1,668.8 743.5,669.4 743.5,665.8Z"/></g>
<g fill="#000" fill-opacity="0.45"><path d="M751.5,666.0 C751.5,663.0 755.1,663.5 756.0,664.0 C756.9,663.5 760.5,663.0 760.5,666.0 C760.5,669.0 756.9,668.5 756.0,668.0 C755.1,668.5 751.5,669.0 751.5,666.0Z"/></g>
<g fill="#000" fill-opacity="0.8"><path d="M759.0,665.8 C759.0,661.6 762.6,662.3 763.5,663.0 C764.4,662.3 768.0,661.6 768.0,665.8 C768.0,670.0 764.4,669.3 763.5,668.6 C762.6,669.3 759.0,670.0 759.0,665.8Z"/></g>
<g fill="#000" fill-opacity="0.8"><path d="M780.0,664.0 C780.0,660.1 784.0,660.8 785.0,661.4 C786.0,660.8 790.0,660.1 790.0,664.0 C790.0,667.9 786.0,667.2 785.0,666.6 C784.0,667.2 780.0,667.9 780.0,664.0Z"/></g>
<g fill="#000" fill-opacity="0.5"><path d="M789.5,664.6 C789.5,661.6 794.3,662.1 795.5,662.6 C796.7,662.1 801.5,661.6 801.5,664.6 C801.5,667.6 796.7,667.1 795.5,666.6 C794.3,667.1 789.5,667.6 789.5,664.6Z"/></g>
<g fill="#000" fill-opacity="1"><path d="M819.7,660.5 C819.7,653.9 830.9,655.0 833.7,656.1 C836.5,655.0 847.7,653.9 847.7,660.5 C847.7,667.1 836.5,666.0 833.7,664.9 C830.9,666.0 819.7,667.1 819.7,660.5Z"/></g>
<g fill="#000" fill-opacity="1"><path d="M858.0,660.5 C858.0,652.7 869.2,654.0 872.0,655.3 C874.8,654.0 886.0,652.7 886.0,660.5 C886.0,668.3 874.8,667.0 872.0,665.7 C869.2,667.0 858.0,668.3 858.0,660.5Z"/></g>
<g fill="#000" fill-opacity="1"><path d="M897.5,662.6 C897.5,656.6 909.9,657.6 913.0,658.6 C916.1,657.6 928.5,656.6 928.5,662.6 C928.5,668.6 916.1,667.6 913.0,666.6 C909.9,667.6 897.5,668.6 897.5,662.6Z"/></g>
<g fill="#000" fill-opacity="1"><path d="M942.5,662.6 C942.5,654.8 952.5,656.1 955.0,657.4 C957.5,656.1 967.5,654.8 967.5,662.6 C967.5,670.4 957.5,669.1 955.0,667.8 C952.5,669.1 942.5,670.4 942.5,662.6Z"/></g>
<g fill="#000" fill-opacity="0.7"><path d="M975.5,663.8 C975.5,659.0 980.7,659.8 982.0,660.6 C983.3,659.8 988.5,659.0 988.5,663.8 C988.5,668.6 983.3,667.8 982.0,667.0 C980.7,667.8 975.5,668.6 975.5,663.8Z"/></g>
<g fill="#000" fill-opacity="0.95"><path d="M991.0,666.0 C991.0,660.6 996.2,661.5 997.5,662.4 C998.8,661.5 1004.0,660.6 1004.0,666.0 C1004.0,671.4 998.8,670.5 997.5,669.6 C996.2,670.5 991.0,671.4 991.0,666.0Z"/></g>
<g fill="#000" fill-opacity="0.9"><path d="M997.5,673.6 C997.5,672.4 998.4,672.6 998.6,672.8 C998.8,672.6 999.7,672.4 999.7,673.6 C999.7,674.8 998.8,674.6 998.6,674.4 C998.4,674.6 997.5,674.8 997.5,673.6Z"/></g>
<g fill="#000" fill-opacity="0.92"><path d="M1019.0,667.0 C1019.0,663.1 1029.0,663.8 1031.5,664.4 C1034.0,663.8 1044.0,663.1 1044.0,667.0 C1044.0,670.9 1034.0,670.2 1031.5,669.6 C1029.0,670.2 1019.0,670.9 1019.0,667.0Z"/></g>
<g fill="#000" fill-opacity="0.95"><path d="M1056.0,666.6 C1056.0,662.7 1064.8,663.4 1067.0,664.0 C1069.2,663.4 1078.0,662.7 1078.0,666.6 C1078.0,670.5 1069.2,669.9 1067.0,669.2 C1064.8,669.9 1056.0,670.5 1056.0,666.6Z"/></g>
<g fill="#000" fill-opacity="0.55"><path d="M1096.5,667.0 C1096.5,664.3 1103.3,664.8 1105.0,665.2 C1106.7,664.8 1113.5,664.3 1113.5,667.0 C1113.5,669.7 1106.7,669.2 1105.0,668.8 C1103.3,669.2 1096.5,669.7 1096.5,667.0Z"/></g>
<g fill="#000" fill-opacity="1.0"><path d="M1111.5,665.5 C1111.5,661.3 1116.3,662.0 1117.5,662.7 C1118.7,662.0 1123.5,661.3 1123.5,665.5 C1123.5,669.7 1118.7,669.0 1117.5,668.3 C1116.3,669.0 1111.5,669.7 1111.5,665.5Z"/></g>
</g></g>
<rect x="659.6" y="641.0" width="474.5" height="43.2" fill="url(#vshade)"/>
<rect x="659.6" y="641.0" width="474.5" height="43.2" filter="url(#noise)" opacity="0.22"/>
<rect x="659.6" y="641.0" width="474.5" height="43.2" fill="none" stroke="#000" stroke-width="3"/>
<rect x="659.6" y="694.4" width="474.5" height="43.2" fill="url(#g2)"/>
<g clip-path="url(#c2)"><g filter="url(#bl2)">
<ellipse cx="682.6" cy="716.3" rx="18.6" ry="14.7" fill="#000" fill-opacity="0.060"/>
<ellipse cx="722.0" cy="716.0" rx="18.6" ry="14.7" fill="#000" fill-opacity="0.060"/>
<ellipse cx="761.0" cy="715.6" rx="17.4" ry="17.3" fill="#000" fill-opacity="0.060"/>
<ellipse cx="796.0" cy="715.0" rx="16.7" ry="17.3" fill="#000" fill-opacity="0.060"/>
<ellipse cx="836.7" cy="712.2" rx="18.6" ry="14.7" fill="#000" fill-opacity="0.060"/>
<ellipse cx="875.5" cy="712.2" rx="17.4" ry="16.0" fill="#000" fill-opacity="0.060"/>
<ellipse cx="915.0" cy="712.2" rx="20.5" ry="14.7" fill="#000" fill-opacity="0.060"/>
<ellipse cx="955.0" cy="713.6" rx="15.5" ry="14.7" fill="#000" fill-opacity="0.060"/>
<ellipse cx="989.4" cy="714.6" rx="16.7" ry="14.7" fill="#000" fill-opacity="0.060"/>
<ellipse cx="1029.0" cy="714.6" rx="16.7" ry="14.7" fill="#000" fill-opacity="0.060"/>
<ellipse cx="1066.4" cy="713.6" rx="18.0" ry="14.7" fill="#000" fill-opacity="0.060"/>
<ellipse cx="1108.5" cy="713.6" rx="21.1" ry="16.0" fill="#000" fill-opacity="0.060"/>
</g></g>
<g clip-path="url(#c2)"><g filter="url(#bl)">
<g fill="#000" fill-opacity="1"><path d="M667.6,716.3 C667.6,710.9 679.6,711.8 682.6,712.7 C685.6,711.8 697.6,710.9 697.6,716.3 C697.6,721.7 685.6,720.8 682.6,719.9 C679.6,720.8 667.6,721.7 667.6,716.3Z"/></g>
<g fill="#000" fill-opacity="1"><path d="M707.0,716.0 C707.0,710.6 719.0,711.5 722.0,712.4 C725.0,711.5 737.0,710.6 737.0,716.0 C737.0,721.4 725.0,720.5 722.0,719.6 C719.0,720.5 707.0,721.4 707.0,716.0Z"/></g>
<g fill="#000" fill-opacity="1"><path d="M747.0,715.6 C747.0,709.0 758.2,710.1 761.0,711.2 C763.8,710.1 775.0,709.0 775.0,715.6 C775.0,722.2 763.8,721.1 761.0,720.0 C758.2,721.1 747.0,722.2 747.0,715.6Z"/></g>
<g fill="#000" fill-opacity="1"><path d="M782.5,715.0 C782.5,708.4 793.3,709.5 796.0,710.6 C798.7,709.5 809.5,708.4 809.5,715.0 C809.5,721.6 798.7,720.5 796.0,719.4 C793.3,720.5 782.5,721.6 782.5,715.0Z"/></g>
<g fill="#000" fill-opacity="1"><path d="M821.7,712.2 C821.7,706.8 833.7,707.7 836.7,708.6 C839.7,707.7 851.7,706.8 851.7,712.2 C851.7,717.6 839.7,716.7 836.7,715.8 C833.7,716.7 821.7,717.6 821.7,712.2Z"/></g>
<g fill="#000" fill-opacity="1"><path d="M861.5,712.2 C861.5,706.2 872.7,707.2 875.5,708.2 C878.3,707.2 889.5,706.2 889.5,712.2 C889.5,718.2 878.3,717.2 875.5,716.2 C872.7,717.2 861.5,718.2 861.5,712.2Z"/></g>
<g fill="#000" fill-opacity="1"><path d="M898.5,712.2 C898.5,706.8 911.7,707.7 915.0,708.6 C918.3,707.7 931.5,706.8 931.5,712.2 C931.5,717.6 918.3,716.7 915.0,715.8 C911.7,716.7 898.5,717.6 898.5,712.2Z"/></g>
<g fill="#000" fill-opacity="1"><path d="M942.5,713.6 C942.5,708.2 952.5,709.1 955.0,710.0 C957.5,709.1 967.5,708.2 967.5,713.6 C967.5,719.0 957.5,718.1 955.0,717.2 C952.5,718.1 942.5,719.0 942.5,713.6Z"/></g>
<g fill="#000" fill-opacity="1"><path d="M975.9,714.6 C975.9,709.2 986.7,710.1 989.4,711.0 C992.1,710.1 1002.9,709.2 1002.9,714.6 C1002.9,720.0 992.1,719.1 989.4,718.2 C986.7,719.1 975.9,720.0 975.9,714.6Z"/></g>
<g fill="#000" fill-opacity="1"><path d="M1015.5,714.6 C1015.5,709.2 1026.3,710.1 1029.0,711.0 C1031.7,710.1 1042.5,709.2 1042.5,714.6 C1042.5,720.0 1031.7,719.1 1029.0,718.2 C1026.3,719.1 1015.5,720.0 1015.5,714.6Z"/></g>
<g fill="#000" fill-opacity="1"><path d="M1051.9,713.6 C1051.9,708.2 1063.5,709.1 1066.4,710.0 C1069.3,709.1 1080.9,708.2 1080.9,713.6 C1080.9,719.0 1069.3,718.1 1066.4,717.2 C1063.5,718.1 1051.9,719.0 1051.9,713.6Z"/></g>
<g fill="#000" fill-opacity="1"><path d="M1091.5,713.6 C1091.5,707.6 1105.1,708.6 1108.5,709.6 C1111.9,708.6 1125.5,707.6 1125.5,713.6 C1125.5,719.6 1111.9,718.6 1108.5,717.6 C1105.1,718.6 1091.5,719.6 1091.5,713.6Z"/></g>
</g></g>
<rect x="659.6" y="694.4" width="474.5" height="43.2" fill="url(#vshade)"/>
<rect x="659.6" y="694.4" width="474.5" height="43.2" filter="url(#noise)" opacity="0.1"/>
<rect x="659.6" y="694.4" width="474.5" height="43.2" fill="none" stroke="#000" stroke-width="3"/>
<rect x="659.6" y="759.2" width="474.5" height="43.1" fill="url(#g3)"/>
<g clip-path="url(#c3)"><g filter="url(#bl2)">
<ellipse cx="686.0" cy="788.7" rx="19.2" ry="8.2" fill="#000" fill-opacity="0.030"/>
<ellipse cx="726.4" cy="786.7" rx="16.7" ry="8.2" fill="#000" fill-opacity="0.030"/>
<ellipse cx="766.0" cy="784.7" rx="16.1" ry="8.2" fill="#000" fill-opacity="0.030"/>
<ellipse cx="801.5" cy="784.3" rx="14.3" ry="8.2" fill="#000" fill-opacity="0.025"/>
<ellipse cx="995.0" cy="778.1" rx="14.9" ry="9.5" fill="#000" fill-opacity="0.060"/>
<ellipse cx="1034.0" cy="777.5" rx="17.4" ry="9.5" fill="#000" fill-opacity="0.060"/>
<ellipse cx="1072.7" cy="776.5" rx="16.1" ry="10.8" fill="#000" fill-opacity="0.080"/>
<ellipse cx="1112.0" cy="777.5" rx="18.6" ry="8.2" fill="#000" fill-opacity="0.045"/>
</g></g>
<g clip-path="url(#c3)"><g filter="url(#bl)">
<g fill="#000" fill-opacity="0.3"><path d="M670.5,788.7 C670.5,786.3 682.9,786.7 686.0,787.1 C689.1,786.7 701.5,786.3 701.5,788.7 C701.5,791.1 689.1,790.7 686.0,790.3 C682.9,790.7 670.5,791.1 670.5,788.7Z"/></g>
<g fill="#000" fill-opacity="0.3"><path d="M712.9,786.7 C712.9,784.3 723.7,784.7 726.4,785.1 C729.1,784.7 739.9,784.3 739.9,786.7 C739.9,789.1 729.1,788.7 726.4,788.3 C723.7,788.7 712.9,789.1 712.9,786.7Z"/></g>
<g fill="#000" fill-opacity="0.3"><path d="M753.0,784.7 C753.0,782.3 763.4,782.7 766.0,783.1 C768.6,782.7 779.0,782.3 779.0,784.7 C779.0,787.1 768.6,786.7 766.0,786.3 C763.4,786.7 753.0,787.1 753.0,784.7Z"/></g>
<g fill="#000" fill-opacity="0.25"><path d="M790.0,784.3 C790.0,781.9 799.2,782.3 801.5,782.7 C803.8,782.3 813.0,781.9 813.0,784.3 C813.0,786.7 803.8,786.3 801.5,785.9 C799.2,786.3 790.0,786.7 790.0,784.3Z"/></g>
<g fill="#000" fill-opacity="0.6"><path d="M983.0,778.1 C983.0,775.1 992.6,775.6 995.0,776.1 C997.4,775.6 1007.0,775.1 1007.0,778.1 C1007.0,781.1 997.4,780.6 995.0,780.1 C992.6,780.6 983.0,781.1 983.0,778.1Z"/></g>
<g fill="#000" fill-opacity="0.6"><path d="M1020.0,777.5 C1020.0,774.5 1031.2,775.0 1034.0,775.5 C1036.8,775.0 1048.0,774.5 1048.0,777.5 C1048.0,780.5 1036.8,780.0 1034.0,779.5 C1031.2,780.0 1020.0,780.5 1020.0,777.5Z"/></g>
<g fill="#000" fill-opacity="0.8"><path d="M1059.7,776.5 C1059.7,772.9 1070.1,773.5 1072.7,774.1 C1075.3,773.5 1085.7,772.9 1085.7,776.5 C1085.7,780.1 1075.3,779.5 1072.7,778.9 C1070.1,779.5 1059.7,780.1 1059.7,776.5Z"/></g>
<g fill="#000" fill-opacity="0.45"><path d="M1097.0,777.5 C1097.0,775.1 1109.0,775.5 1112.0,775.9 C1115.0,775.5 1127.0,775.1 1127.0,777.5 C1127.0,779.9 1115.0,779.5 1112.0,779.1 C1109.0,779.5 1097.0,779.9 1097.0,777.5Z"/></g>
</g></g>
<rect x="659.6" y="759.2" width="474.5" height="43.1" fill="url(#vshade)"/>
<rect x="659.6" y="759.2" width="474.5" height="43.1" filter="url(#noise)" opacity="0.1"/>
<rect x="659.6" y="759.2" width="474.5" height="43.1" fill="none" stroke="#000" stroke-width="3"/>
<rect x="659.6" y="812.3" width="474.5" height="43.4" fill="url(#g4)"/>
<g clip-path="url(#c4)"><g filter="url(#bl2)">
<ellipse cx="678.0" cy="834.7" rx="18.6" ry="13.4" fill="#000" fill-opacity="0.060"/>
<ellipse cx="718.3" cy="833.3" rx="20.5" ry="17.3" fill="#000" fill-opacity="0.060"/>
<ellipse cx="758.0" cy="830.6" rx="20.5" ry="21.2" fill="#000" fill-opacity="0.060"/>
<ellipse cx="792.8" cy="830.6" rx="18.0" ry="18.6" fill="#000" fill-opacity="0.060"/>
<ellipse cx="834.7" cy="828.0" rx="16.7" ry="12.1" fill="#000" fill-opacity="0.060"/>
<ellipse cx="874.5" cy="825.5" rx="18.0" ry="13.4" fill="#000" fill-opacity="0.060"/>
<ellipse cx="915.5" cy="828.6" rx="19.2" ry="12.1" fill="#000" fill-opacity="0.060"/>
<ellipse cx="954.3" cy="827.5" rx="16.7" ry="12.1" fill="#000" fill-opacity="0.060"/>
<ellipse cx="991.0" cy="830.0" rx="20.5" ry="17.3" fill="#000" fill-opacity="0.060"/>
<ellipse cx="1030.8" cy="830.0" rx="19.2" ry="17.3" fill="#000" fill-opacity="0.060"/>
<ellipse cx="1069.5" cy="829.2" rx="20.5" ry="19.9" fill="#000" fill-opacity="0.060"/>
<ellipse cx="1112.5" cy="828.6" rx="24.2" ry="22.5" fill="#000" fill-opacity="0.060"/>
</g></g>
<g clip-path="url(#c4)"><g filter="url(#bl)">
<g fill="#000" fill-opacity="1"><path d="M663.0,834.7 C663.0,829.9 675.0,830.7 678.0,831.5 C681.0,830.7 693.0,829.9 693.0,834.7 C693.0,839.5 681.0,838.7 678.0,837.9 C675.0,838.7 663.0,839.5 663.0,834.7Z"/></g>
<g fill="#000" fill-opacity="1"><path d="M701.8,833.3 C701.8,826.7 715.0,827.8 718.3,828.9 C721.6,827.8 734.8,826.7 734.8,833.3 C734.8,839.9 721.6,838.8 718.3,837.7 C715.0,838.8 701.8,839.9 701.8,833.3Z"/></g>
<g fill="#000" fill-opacity="1"><path d="M741.5,830.6 C741.5,822.2 754.7,823.6 758.0,825.0 C761.3,823.6 774.5,822.2 774.5,830.6 C774.5,839.0 761.3,837.6 758.0,836.2 C754.7,837.6 741.5,839.0 741.5,830.6Z"/></g>
<g fill="#000" fill-opacity="1"><path d="M778.3,830.6 C778.3,823.4 789.9,824.6 792.8,825.8 C795.7,824.6 807.3,823.4 807.3,830.6 C807.3,837.8 795.7,836.6 792.8,835.4 C789.9,836.6 778.3,837.8 778.3,830.6Z"/></g>
<g fill="#000" fill-opacity="1"><path d="M821.2,828.0 C821.2,823.8 832.0,824.5 834.7,825.2 C837.4,824.5 848.2,823.8 848.2,828.0 C848.2,832.2 837.4,831.5 834.7,830.8 C832.0,831.5 821.2,832.2 821.2,828.0Z"/></g>
<g fill="#000" fill-opacity="1"><path d="M860.0,825.5 C860.0,820.7 871.6,821.5 874.5,822.3 C877.4,821.5 889.0,820.7 889.0,825.5 C889.0,830.3 877.4,829.5 874.5,828.7 C871.6,829.5 860.0,830.3 860.0,825.5Z"/></g>
<g fill="#000" fill-opacity="1"><path d="M900.0,828.6 C900.0,824.4 912.4,825.1 915.5,825.8 C918.6,825.1 931.0,824.4 931.0,828.6 C931.0,832.8 918.6,832.1 915.5,831.4 C912.4,832.1 900.0,832.8 900.0,828.6Z"/></g>
<g fill="#000" fill-opacity="1"><path d="M940.8,827.5 C940.8,823.3 951.6,824.0 954.3,824.7 C957.0,824.0 967.8,823.3 967.8,827.5 C967.8,831.7 957.0,831.0 954.3,830.3 C951.6,831.0 940.8,831.7 940.8,827.5Z"/></g>
<g fill="#000" fill-opacity="1"><path d="M974.5,830.0 C974.5,823.4 987.7,824.5 991.0,825.6 C994.3,824.5 1007.5,823.4 1007.5,830.0 C1007.5,836.6 994.3,835.5 991.0,834.4 C987.7,835.5 974.5,836.6 974.5,830.0Z"/></g>
<g fill="#000" fill-opacity="1"><path d="M1015.3,830.0 C1015.3,823.4 1027.7,824.5 1030.8,825.6 C1033.9,824.5 1046.3,823.4 1046.3,830.0 C1046.3,836.6 1033.9,835.5 1030.8,834.4 C1027.7,835.5 1015.3,836.6 1015.3,830.0Z"/></g>
<g fill="#000" fill-opacity="1"><path d="M1053.0,829.2 C1053.0,821.4 1066.2,822.7 1069.5,824.0 C1072.8,822.7 1086.0,821.4 1086.0,829.2 C1086.0,837.0 1072.8,835.7 1069.5,834.4 C1066.2,835.7 1053.0,837.0 1053.0,829.2Z"/></g>
<g fill="#000" fill-opacity="1"><path d="M1093.0,828.6 C1093.0,819.6 1108.6,821.1 1112.5,822.6 C1116.4,821.1 1132.0,819.6 1132.0,828.6 C1132.0,837.6 1116.4,836.1 1112.5,834.6 C1108.6,836.1 1093.0,837.6 1093.0,828.6Z"/></g>
</g></g>
<rect x="659.6" y="812.3" width="474.5" height="43.4" fill="url(#vshade)"/>
<rect x="659.6" y="812.3" width="474.5" height="43.4" filter="url(#noise)" opacity="0.22"/>
<rect x="659.6" y="812.3" width="474.5" height="43.4" fill="none" stroke="#000" stroke-width="3"/>
</svg>
</body></html>
